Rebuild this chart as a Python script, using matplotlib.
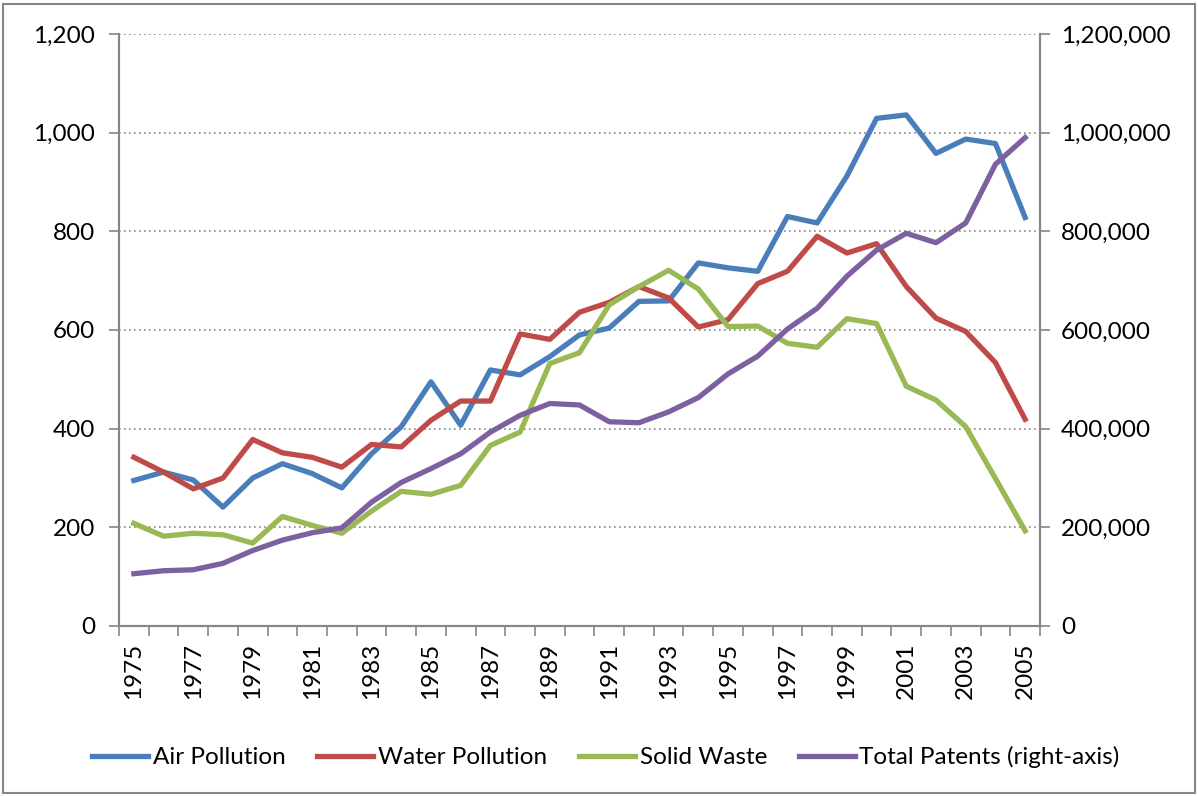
import matplotlib
matplotlib.use("Agg")
import matplotlib.pyplot as plt
import matplotlib.patches as patches
from matplotlib.ticker import FuncFormatter, FixedLocator
import numpy as np

plt.rcParams['font.family'] = ['Lato', 'DejaVu Sans']

# data
years = list(range(1975, 2006))
air = [295, 312, 296, 241, 300, 329, 309, 280, 349, 404, 495, 407, 519, 509, 546, 590,
       604, 658, 659, 736, 726, 719, 830, 817, 912, 1029, 1036, 958, 987, 978, 828]
water = [342, 312, 278, 300, 378, 351, 342, 322, 368, 363, 417, 456, 456, 592, 581, 636,
         656, 688, 665, 606, 621, 694, 719, 790, 756, 775, 688, 624, 597, 534, 419]
solid = [208, 182, 188, 185, 168, 222, 204, 188, 233, 273, 267, 285, 366, 393, 532, 554,
         651, 688, 721, 683, 607, 608, 573, 565, 623, 613, 486, 458, 404, 299, 193]
patents = [106000, 112000, 114000, 127000, 153000, 174000, 189000, 199000, 251000, 291000,
           319000, 349000, 393000, 427000, 451000, 448000, 414000, 412000, 434000, 463000,
           511000, 547000, 602000, 644000, 709000, 762000, 796000, 777000, 817000, 936000,
           990000]

c_air = "#4A7EBB"
c_water = "#BE4B48"
c_solid = "#98B954"
c_pat = "#7D60A0"
gray = "#868686"
fs = 17.5

W, H = 1198, 796
fig = plt.figure(figsize=(W / 100, H / 100), dpi=100)
fig.patches.append(patches.Rectangle((3 / W, 3 / H), 1 - 6 / W, 1 - 7 / H, transform=fig.transFigure,
                                     fill=False, edgecolor=gray, linewidth=1.5))

ax = fig.add_axes([119 / W, 1 - 626 / H, (1040 - 119) / W, (626 - 34) / H])
ax2 = ax.twinx()

x = np.arange(len(years))
lw = 3.8
l1, = ax.plot(x, air, color=c_air, lw=lw, label="Air Pollution", zorder=3)
l2, = ax.plot(x, water, color=c_water, lw=lw, label="Water Pollution", zorder=3)
l3, = ax.plot(x, solid, color=c_solid, lw=lw, label="Solid Waste", zorder=3)
l4, = ax2.plot(x, patents, color=c_pat, lw=lw, label="Total Patents (right-axis)", zorder=3)

ax.set_xlim(-0.5, len(years) - 0.5)
ax.set_ylim(0, 1200)
ax2.set_ylim(0, 1200000)
ax.set_yticks(np.arange(0, 1201, 200))
ax2.set_yticks(np.arange(0, 1200001, 200000))
ax.yaxis.set_major_formatter(FuncFormatter(lambda v, p: f"{int(v):,}"))
ax2.yaxis.set_major_formatter(FuncFormatter(lambda v, p: f"{int(v):,}"))

ax.grid(axis='y', color=gray, linestyle=(0, (1, 2)), linewidth=1.2, zorder=0)
ax.set_axisbelow(True)

# x ticks: marks between categories, labels every other year
ax.xaxis.set_major_locator(FixedLocator(np.arange(-0.5, len(years), 1.0)))
ax.xaxis.set_major_formatter(FuncFormatter(lambda v, p: ""))
ax.xaxis.set_minor_locator(FixedLocator(x[::2]))
ax.xaxis.set_minor_formatter(FuncFormatter(lambda v, p: str(years[int(round(v))])))
ax.tick_params(axis='x', which='major', length=7, color=gray, width=1.2)
ax.tick_params(axis='x', which='minor', length=0, pad=12, labelsize=fs, labelrotation=90)

ax.tick_params(axis='y', length=7, color=gray, width=1.2, labelsize=fs, pad=10)
ax2.tick_params(axis='y', length=7, color=gray, width=1.2, labelsize=fs, pad=8)

for a in (ax, ax2):
    a.spines['top'].set_visible(False)
    for s in ('left', 'right', 'bottom'):
        a.spines[s].set_color(gray)
        a.spines[s].set_linewidth(1.5)

fig.legend(handles=[l1, l2, l3, l4], loc='center', bbox_to_anchor=(606 / W, 1 - 757 / H),
           ncol=4, frameon=False, fontsize=fs, handlelength=2.3, handletextpad=0.2,
           columnspacing=1.3)

fig.savefig("out.png", dpi=100)
